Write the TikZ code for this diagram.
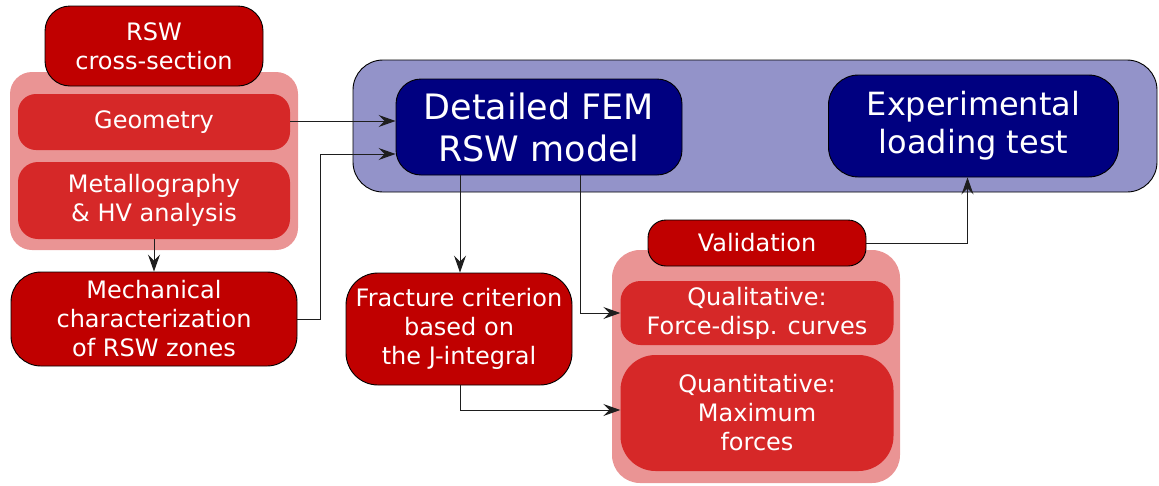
\documentclass[tikz,border=0pt]{standalone}
\usepackage{fontspec}
\setmainfont{DejaVu Sans}
\usetikzlibrary{arrows.meta,calc}
\definecolor{dred}{RGB}{192,0,0}
\definecolor{mred}{RGB}{214,40,40}
\definecolor{lpink}{RGB}{234,148,148}
\definecolor{lblue}{RGB}{147,147,201}
\definecolor{navy}{RGB}{0,0,128}
\definecolor{conn}{RGB}{30,30,30}
\tikzset{
  box/.style={draw=black,line width=0.9pt,text=white,align=center,inner sep=0pt,
    font=\fontsize{24}{29}\selectfont},
  darkbox/.style={box,fill=dred},
  subbox/.style={fill=mred,text=white,align=center,inner sep=0pt,
    font=\fontsize{24}{29}\selectfont},
  group/.style={fill=lpink,inner sep=0pt},
  bluebox/.style={box,fill=navy},
  arr/.style={draw=conn,line width=1pt,-{Stealth[length=17pt,width=12pt,inset=6pt]}},
}
\begin{document}
\begin{tikzpicture}[x=1pt,y=-1pt]
\useasboundingbox (0,0) rectangle (1159,485);
% left group
\node[group,minimum width=288pt,minimum height=178pt,rounded corners=22pt] (grpL) at (154,161) {};
\node[subbox,minimum width=272pt,minimum height=56pt,rounded corners=18pt] (geo) at (154,122) {Geometry};
\node[subbox,minimum width=272pt,minimum height=77pt,rounded corners=20pt] (met) at (154,200.5) {Metallography\\\& HV analysis};
\node[darkbox,minimum width=218pt,minimum height=80pt,rounded corners=25pt] (rsw) at (154,46) {RSW\\cross-section};
\node[darkbox,minimum width=286pt,minimum height=94pt,rounded corners=30pt] (mech) at (154,319) {Mechanical\\characterization\\of RSW zones};
% blue area
\node[box,fill=lblue,minimum width=804pt,minimum height=132pt,rounded corners=30pt] (blue) at (755,126) {};
\node[bluebox,minimum width=286pt,minimum height=96pt,rounded corners=25pt,font=\fontsize{35}{42}\selectfont] (fem) at (539,127) {Detailed FEM\\RSW model};
\node[bluebox,minimum width=290pt,minimum height=102pt,rounded corners=30pt,font=\fontsize{32}{38}\selectfont] (exp) at (973.5,126) {Experimental\\loading test};
% fracture
\node[darkbox,minimum width=226pt,minimum height=112pt,rounded corners=32pt] (frac) at (459,329) {Fracture criterion\\based on\\the J-integral};
% validation group
\node[group,minimum width=288pt,minimum height=233pt,rounded corners=28pt] (grpR) at (756,366.5) {};
\node[darkbox,minimum width=218pt,minimum height=46pt,rounded corners=18pt] (val) at (757,243) {Validation};
\node[subbox,minimum width=273pt,minimum height=64pt,rounded corners=20pt] (qual) at (757,313) {Qualitative:\\Force-disp. curves};
\node[subbox,minimum width=273pt,minimum height=116pt,rounded corners=35pt] (quant) at (757,413) {Quantitative:\\Maximum\\forces};
% connectors
\draw[arr] (met.south) -- (mech.north);
\draw[arr] ($(geo.east)+(0,-1)$) -- ($(geo.east -| fem.west)+(0,-1)$);
\draw[arr] (mech.east) -- ++(23,0) |- ($(fem.west)+(0,27)$);
\draw[arr] ($(fem.south -| frac.north)+(1,0)$) -- ($(frac.north)+(1,0)$);
\draw[arr] ($(fem.south)+(41,0)$) |- (qual.west);
\draw[arr] ($(frac.south)+(1,0)$) |- ($(quant.west)+(0,-3)$);
\draw[arr] (val.east) -| ($(exp.south)+(-6,0)$);
\end{tikzpicture}
\end{document}
